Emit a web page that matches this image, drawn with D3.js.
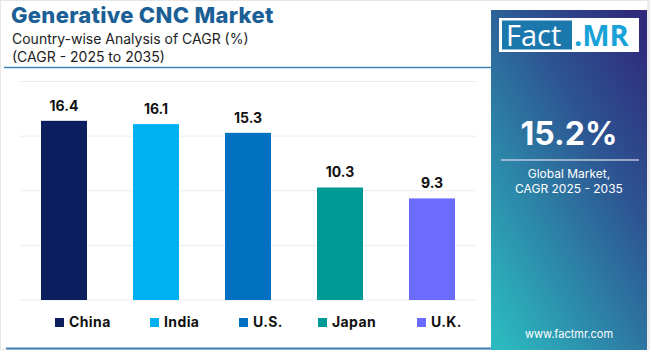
<!DOCTYPE html>
<html><head><meta charset="utf-8">
<script src="https://cdn.jsdelivr.net/npm/d3@7"></script>
<style>html,body{margin:0;padding:0;background:#fff;}svg{display:block;font-family:Inter,"Open Sans",sans-serif;}</style>
</head><body><svg id="c" width="650" height="350"></svg>
<script>
const categories = ["China", "India", "U.S.", "Japan", "U.K."];
const values = [16.4, 16.1, 15.3, 10.3, 9.3];
const colors = ["#0b1f5e", "#00b0f0", "#0070c0", "#009a96", "#6b6bfd"];
const yTicks = [0, 5, 10, 15, 20];
const title = "Generative CNC Market";
const subtitle = ["Country-wise Analysis of CAGR (%)", "(CAGR - 2025 to 2035)"];
const globalCagr = "15.2%";
const panelText = ["Global Market,", "CAGR 2025 - 2035"];

const svg = d3.select("#c");
const defs = svg.append("defs");

// frame
svg.append("rect").attr("x",0.5).attr("y",0.5).attr("width",649).attr("height",349).attr("fill","#fff").attr("stroke","#e6e6e6");
svg.append("rect").attr("x",647).attr("y",0).attr("width",3).attr("height",350).attr("fill","#ececec");

// title
svg.append("text").attr("x",11).attr("y",23).attr("fill","#1b5f96").attr("font-size",22).attr("font-weight",800).attr("letter-spacing",0.3).text(title);
subtitle.forEach((s,i)=>svg.append("text").attr("x",12).attr("y",44+i*18).attr("fill","#222").attr("font-size",14).text(s));
svg.append("line").attr("x1",4).attr("x2",491).attr("y1",67.5).attr("y2",67.5).attr("stroke","#3d84b8").attr("stroke-width",1.5);
svg.append("line").attr("x1",6).attr("x2",491).attr("y1",348.5).attr("y2",348.5).attr("stroke","#3f7fb3").attr("stroke-width",2);

// chart
const x = d3.scaleBand().domain(categories).range([18, 478]).paddingInner(0.5).paddingOuter(0.25);
const y = d3.scaleLinear().domain([0, 20]).range([300, 81.5]);

const grid = svg.append("g");
grid.selectAll("line").data(yTicks).join("line")
  .attr("x1",20).attr("x2",476).attr("y1",d=>y(d)).attr("y2",d=>y(d))
  .attr("stroke","#ededf2").attr("stroke-width",1);

svg.append("g").selectAll("rect").data(values).join("rect")
  .attr("x",(d,i)=>x(categories[i])).attr("width",x.bandwidth())
  .attr("y",d=>y(d)).attr("height",d=>y(0)-y(d)).attr("fill",(d,i)=>colors[i]);

svg.append("g").selectAll("text").data(values).join("text")
  .attr("x",(d,i)=>x(categories[i])+x.bandwidth()/2).attr("y",d=>y(d)-10)
  .attr("text-anchor","middle").attr("font-size",14).attr("font-weight",700).attr("fill","#111")
  .text(d=>d.toFixed(1));

// legend
const legX = [55, 150, 239, 318, 417];
const leg = svg.append("g").selectAll("g").data(categories).join("g")
  .attr("transform",(d,i)=>`translate(${legX[i]},318)`);
leg.append("rect").attr("width",9).attr("height",9).attr("fill",(d,i)=>colors[i]);
leg.append("text").attr("x",14).attr("y",9).attr("font-size",14).attr("font-weight",700).attr("letter-spacing",0.4).attr("fill","#111").text(d=>d);

// panel
const g1 = defs.append("linearGradient").attr("id","pg").attr("x1","0.9").attr("y1","0").attr("x2","0.1").attr("y2","1");
g1.append("stop").attr("offset","0").attr("stop-color","#2f2a7c");
g1.append("stop").attr("offset","0.35").attr("stop-color","#2d5592");
g1.append("stop").attr("offset","1").attr("stop-color","#2cb8bf");
svg.append("rect").attr("x",491).attr("y",10).attr("width",156).attr("height",340).attr("fill","url(#pg)");

// logo
svg.append("rect").attr("x",499).attr("y",18).attr("width",140).attr("height",34).attr("fill","#fff");
svg.append("rect").attr("x",502).attr("y",20.5).attr("width",70).attr("height",29).attr("fill","#1a78ad");
svg.append("text").attr("x",506).attr("y",46).attr("font-size",29).attr("fill","#fff").attr("font-family","'Open Sans',sans-serif").text("Fact");
svg.append("text").attr("x",574).attr("y",46).attr("font-size",29).attr("font-weight",700).attr("fill","#19a2d8").attr("font-family","'Open Sans',sans-serif").text(".MR");

svg.append("text").attr("x",569).attr("y",145).attr("text-anchor","middle").attr("font-size",32).attr("font-weight",700).attr("fill","#fff").text(globalCagr);
svg.append("line").attr("x1",501).attr("x2",639).attr("y1",160).attr("y2",160).attr("stroke","#d6dbe8").attr("stroke-width",1.5).attr("opacity",0.85);
panelText.forEach((t,i)=>svg.append("text").attr("x",569).attr("y",178+i*15).attr("text-anchor","middle").attr("font-size",12).attr("fill","#fff").text(t));
svg.append("text").attr("x",569).attr("y",338).attr("text-anchor","middle").attr("font-size",11).attr("fill","#fff").text("www.factmr.com");
</script></body></html>
